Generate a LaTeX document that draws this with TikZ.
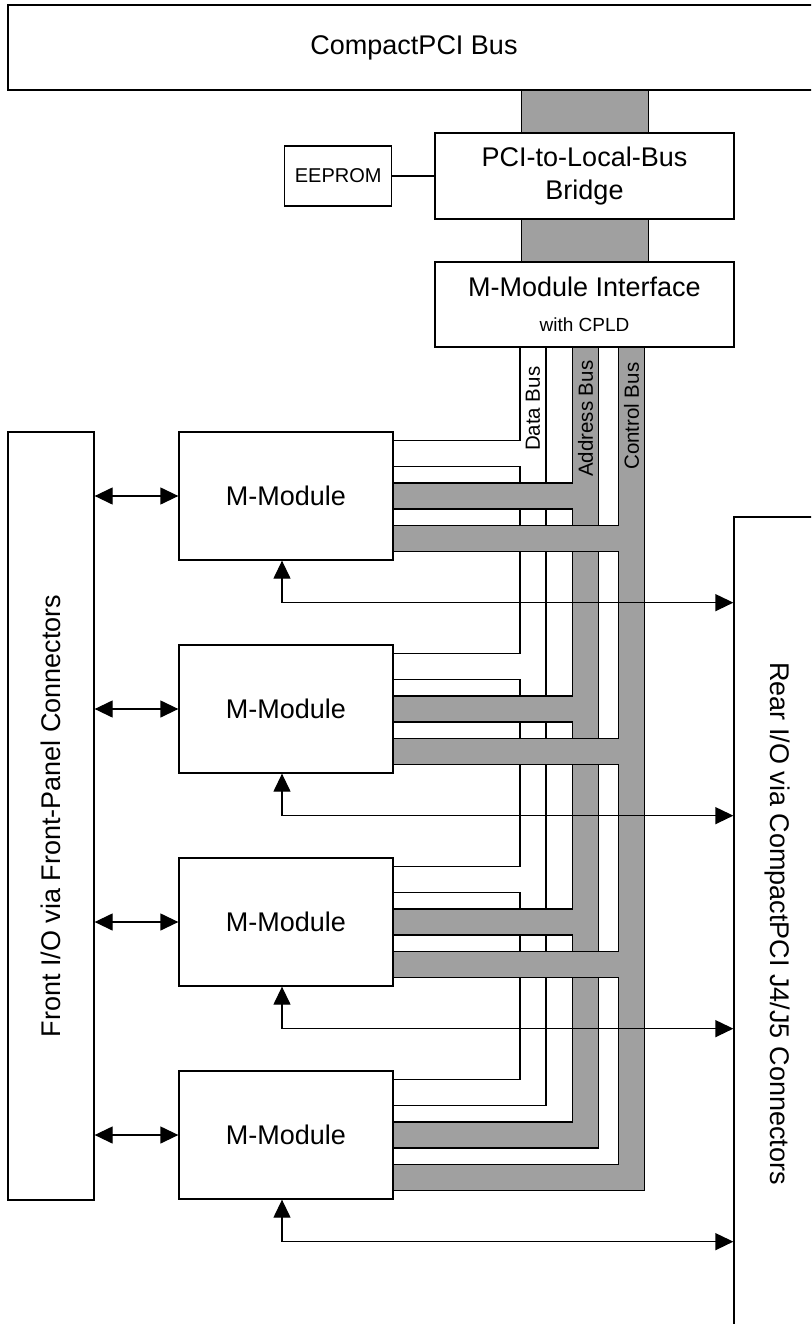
\documentclass[tikz,border=0pt]{standalone}
\usepackage{fontspec}
\setmainfont{Liberation Sans}
\usepackage{tikz}
\usetikzlibrary{arrows.meta,positioning,backgrounds}
\definecolor{busgray}{RGB}{160,160,160}
\newcommand{\modulenum}{4}
\newcommand{\databusx}{533}
\newcommand{\addrbusx}{585.5}
\newcommand{\ctrlbusx}{631.5}
\newcommand{\bigfont}{\fontsize{27}{33}\selectfont}
\newcommand{\busfont}{\fontsize{20.5}{24}\selectfont}

\begin{document}
\begin{tikzpicture}[x=1pt, y=-1pt, line width=1.3pt,
        box/.style={draw, fill=white, inner sep=0pt, align=center, font=\bigfont},
        buslabel/.style={rotate=90, anchor=east, inner sep=0pt, font=\busfont},
        iolink/.style={{Triangle[length=18pt,width=17pt]}-{Triangle[length=18pt,width=17pt]}},
        busedge/.style={line width=27.3pt, black},
        busface/.style={line width=24.7pt}]

        \useasboundingbox (0,0) rectangle (811,1324);
        \clip (0,0) rectangle (811,1324);

        % Backplane, bridge and interface
        \node[box, minimum width=812pt, minimum height=85pt] (CPCI) at (414,47.5) {CompactPCI Bus};
        \node[box, minimum width=299pt, minimum height=86pt] (Bridge) at (584.5,176) {PCI-to-Local-Bus\\Bridge};
        \node[box, minimum width=107pt, minimum height=60pt, font=\fontsize{20}{24}\selectfont,
            left=42pt of Bridge] (EEPROM) {EEPROM};
        \node[box, minimum width=299pt, minimum height=85pt] (Interface) at (584.5,304.5)
            {M-Module Interface\\[2pt]{\fontsize{19}{22}\selectfont with CPLD}};

        % I/O connectors
        \node[box, minimum width=86pt, minimum height=768pt,
            label={[rotate=90, font=\bigfont]center:Front I/O via Front-Panel Connectors}] (Front) at (51,816) {};
        \node[box, minimum width=86pt, minimum height=813pt,
            label={[rotate=-90, font=\bigfont]center:Rear I/O via CompactPCI J4/J5 Connectors}] (Rear) at (777,923.5) {};

        % M-Modules
        \foreach \i in {1,...,\modulenum}
        {
            \node[box, minimum width=214pt, minimum height=128pt] (Module-\i) at (286,{496+213*(\i-1)}) {M-Module};
        }

        % Buses
        \begin{scope}[on background layer]
            \filldraw[fill=busgray] (521,0 |- CPCI.south) rectangle (648,0 |- Bridge.north);
            \filldraw[fill=busgray] (521,0 |- Bridge.south) rectangle (648,0 |- Interface.north);

            \foreach \busx/\dy/\face in {\databusx/42.5/white, \addrbusx/0/busgray, \ctrlbusx/-42.5/busgray}
            {
                \foreach \i in {1,...,\modulenum}
                    \draw[busedge] ([yshift=\dy pt]Module-\i.east) -| (\busx,0 |- Interface.south);
                \foreach \i in {1,...,\modulenum}
                    \draw[busface, \face] ([yshift=\dy pt]Module-\i.east) -| (\busx,0 |- Interface.south);
            }
        \end{scope}

        % Bus labels
        \node[buslabel] (DataLabel) at (\databusx,366) {Data Bus};
        \node[buslabel] (AddrLabel) at (\addrbusx,360) {Address Bus};
        \node[buslabel] (CtrlLabel) at (\ctrlbusx,362) {Control Bus};

        % EEPROM link
        \draw (EEPROM.east) -- (Bridge.west |- EEPROM.east);

        % Front and rear I/O
        \foreach \i in {1,...,\modulenum}
        {
            \coordinate (Foot-\i) at ([xshift=-4pt]Module-\i.south);
            \coordinate (Tap-\i) at ([yshift=-42pt]Foot-\i);
            \draw[iolink] (Front.east |- Module-\i.west) -- (Module-\i.west);
            \draw[iolink] (Foot-\i) |- (Tap-\i -| Rear.west);
        }

\end{tikzpicture}
\end{document}
